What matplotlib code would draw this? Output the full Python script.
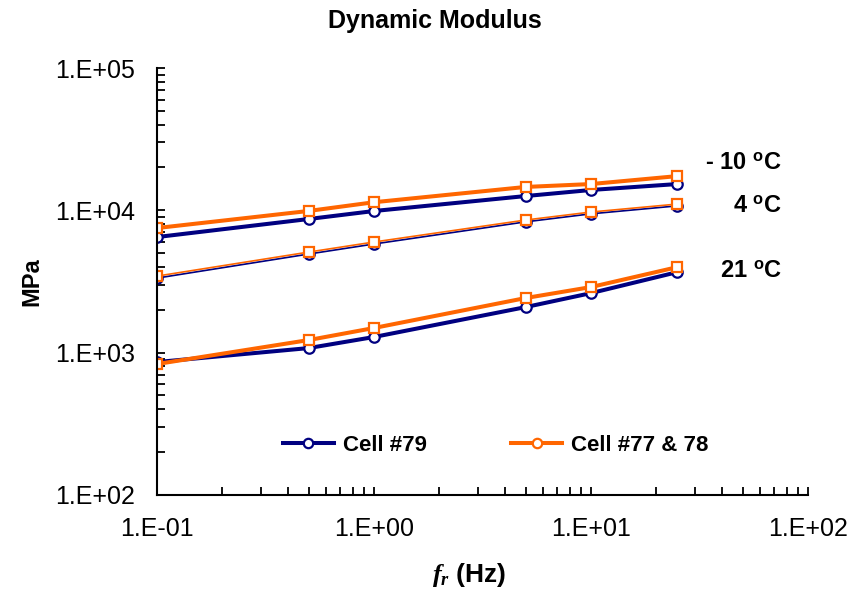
import math

import matplotlib

matplotlib.use("Agg")
import matplotlib.pyplot as plt
from matplotlib.ticker import FixedLocator, FuncFormatter, LogLocator, NullFormatter
from matplotlib.transforms import blended_transform_factory

plt.rcParams["font.family"] = ["Liberation Sans", "DejaVu Sans"]
plt.rcParams["mathtext.fontset"] = "custom"
plt.rcParams["mathtext.rm"] = "Liberation Sans:bold"
plt.rcParams["mathtext.it"] = "Liberation Serif:bold:italic"
plt.rcParams["mathtext.bf"] = "Liberation Sans:bold"

# reduced frequency (Hz)
freq = [0.1, 0.5, 1, 5, 10, 25]

# dynamic modulus (MPa), Cell #79
c79_m10 = [6490, 8690, 9890, 12600, 13900, 15300]
c79_4 = [3340, 4930, 5800, 8300, 9450, 10750]
c79_21 = [859, 1077, 1288, 2090, 2620, 3680]

# dynamic modulus (MPa), Cell #77 & 78
c77_m10 = [7510, 9900, 11400, 14600, 15300, 17400]
c77_4 = [3450, 5090, 5990, 8550, 9730, 11070]
c77_21 = [832, 1226, 1490, 2420, 2890, 3990]

temp_labels = [r"- 10 $^{\mathrm{o}}$C", r"4 $^{\mathrm{o}}$C", r"21 $^{\mathrm{o}}$C"]
temp_label_y = [21800, 10900, 3800]

NAVY, ORANGE = "#000080", "#FF6600"

fig = plt.figure(figsize=(8.55, 6.04), dpi=100)
ax = fig.add_axes([0.1836, 0.1805, 0.7614, 0.7069])

blue_kw = dict(color=NAVY, marker="o", markersize=7.5, markerfacecolor="white",
               markeredgecolor=NAVY, markeredgewidth=1.6)
orange_kw = dict(color=ORANGE, marker="s", markersize=7.5, markerfacecolor="white",
                 markeredgecolor=ORANGE, markeredgewidth=1.6)

ax.plot(freq, c79_m10, lw=2.9, label="Cell #79", **blue_kw)
ax.plot(freq, c77_m10, lw=2.9, label="Cell #77 & 78", **orange_kw)
ax.plot(freq, c79_4, lw=1.2, **blue_kw)
ax.plot(freq, c77_4, lw=1.2, **orange_kw)
ax.plot(freq, c79_21, lw=2.9, **blue_kw)
ax.plot(freq, c77_21, lw=2.9, **orange_kw)

ax.set_xscale("log")
ax.set_yscale("log")
ax.set_xlim(0.1, 100)
ax.set_ylim(100, 100000)

fmt = FuncFormatter(lambda v, p: "1.E{:+03d}".format(int(round(math.log10(v)))))
ax.xaxis.set_major_locator(FixedLocator([0.1, 1, 10, 100]))
ax.yaxis.set_major_locator(FixedLocator([100, 1000, 10000, 100000]))
ax.xaxis.set_major_formatter(fmt)
ax.yaxis.set_major_formatter(fmt)
ax.xaxis.set_minor_locator(LogLocator(base=10, subs=range(2, 10)))
ax.yaxis.set_minor_locator(LogLocator(base=10, subs=range(2, 10)))
ax.xaxis.set_minor_formatter(NullFormatter())
ax.yaxis.set_minor_formatter(NullFormatter())
ax.tick_params(which="both", direction="in", length=6, width=1.3, labelsize=18)
ax.tick_params(axis="y", pad=16)
ax.tick_params(axis="x", pad=16)

for side in ("top", "right"):
    ax.spines[side].set_visible(False)
for side in ("left", "bottom"):
    ax.spines[side].set_linewidth(1.5)

trans = blended_transform_factory(ax.transAxes, ax.transData)
for lab, yv in zip(temp_labels, temp_label_y):
    ax.text(0.96, yv, lab, transform=trans, ha="right", va="center",
            fontsize=17, fontweight="bold")

fig.suptitle("Dynamic Modulus", x=0.509, y=0.966, ha="center", va="center",
             fontsize=18, fontweight="bold")
ax.set_ylabel("MPa", fontsize=17, fontweight="bold", labelpad=8)
ax.set_xlabel("$f_r$ (Hz)", fontsize=19, fontweight="bold", labelpad=14, x=0.48)

leg = ax.legend(loc="center", bbox_to_anchor=(0.52, 0.117), ncol=2, frameon=False,
                prop={"weight": "bold", "size": 16},
                handlelength=2.3, columnspacing=3.8, handletextpad=0.4,
                markerscale=0.9)
for h in leg.legend_handles:
    h.set_marker("o")
    h.set_linewidth(2.9)

fig.savefig("out.png", dpi=100)
